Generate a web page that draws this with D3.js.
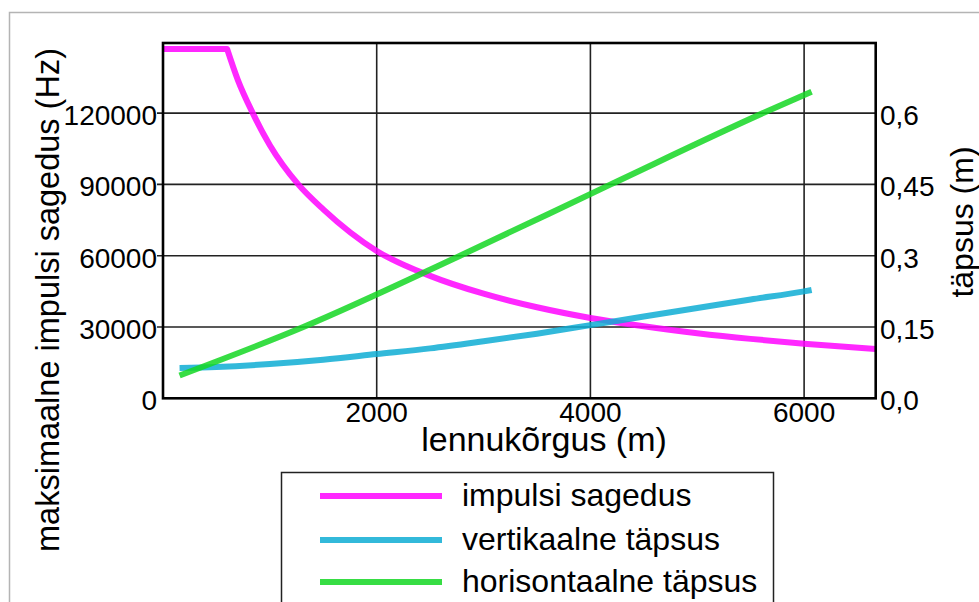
<!DOCTYPE html>
<html>
<head>
<meta charset="utf-8">
<script src="https://cdn.jsdelivr.net/npm/d3@7"></script>
<style>
  html, body { margin: 0; padding: 0; background: #fff; }
  svg { display: block; font-family: "Liberation Sans", Arial, sans-serif; }
</style>
</head>
<body>
<svg id="chart" width="979" height="602"></svg>
<script>
// Flight altitude (m) and maximum pulse repetition frequency (Hz)
const pulseAltitude = [0, 600, 700, 840, 1000, 1266, 1500, 2000, 2500, 3000, 3500, 4000, 4500, 5000, 5500, 6000, 6670];
const pulseFrequency = [147000, 147000, 134000, 120000, 106500, 90000, 79500, 62000, 51500, 44000, 38300, 33800, 30300, 27400, 25000, 23000, 20700];

// Vertical accuracy (m) by altitude
const verticalAltitude = [155, 500, 1000, 1500, 2000, 2500, 3000, 3500, 4000, 4500, 5000, 5500, 6000, 6070];
const verticalAccuracy = [0.064, 0.066, 0.072, 0.081, 0.093, 0.105, 0.120, 0.136, 0.154, 0.172, 0.190, 0.208, 0.225, 0.228];

// Horizontal accuracy (m) by altitude
const horizontalAltitude = [155, 1313, 2780, 4190, 5616, 6070];
const horizontalAccuracy = [0.048, 0.150, 0.300, 0.450, 0.600, 0.645];

// Axis ticks
const xTicks = [2000, 4000, 6000];
const leftTicks = [0, 30000, 60000, 90000, 120000];
const rightTicks = [0, 0.15, 0.3, 0.45, 0.6];
const rightTickLabels = ["0,0", "0,15", "0,3", "0,45", "0,6"];

const seriesNames = ["impulsi sagedus", "vertikaalne täpsus", "horisontaalne täpsus"];
const seriesColors = ["#ff02ff", "#0eadd4", "#14d723"];

const svg = d3.select("#chart");
const plot = { left: 163, right: 875.7, top: 43, bottom: 398.3 };

const x = d3.scaleLinear().domain([0, 6670]).range([plot.left, plot.right]);
const yLeft = d3.scaleLinear().domain([0, 149500]).range([plot.bottom, plot.top]);
const yRight = d3.scaleLinear().domain([0, 0.7475]).range([plot.bottom, plot.top]);

// Light outer frame
svg.append("rect")
  .attr("x", 9.5).attr("y", 12.5)
  .attr("width", 990).attr("height", 620)
  .attr("fill", "none").attr("stroke", "#b4b4b4").attr("stroke-width", 1.5);

// Grid
const grid = svg.append("g").attr("stroke", "#222").attr("stroke-width", 1.6);
grid.selectAll("line.v").data(xTicks).join("line")
  .attr("x1", d => x(d)).attr("x2", d => x(d))
  .attr("y1", plot.top).attr("y2", plot.bottom);
grid.selectAll("line.h").data(leftTicks.slice(1)).join("line")
  .attr("x1", plot.left - 6).attr("x2", plot.right)
  .attr("y1", d => yLeft(d)).attr("y2", d => yLeft(d));

// Data lines, clipped to the plot area
svg.append("clipPath").attr("id", "plotClip")
  .append("rect")
  .attr("x", plot.left).attr("y", plot.top)
  .attr("width", plot.right - plot.left).attr("height", plot.bottom - plot.top);

const lines = svg.append("g").attr("clip-path", "url(#plotClip)")
  .attr("fill", "none").attr("stroke-width", 6).attr("stroke-opacity", 0.85);

const straight = d3.line().x(d => x(d[0])).y(d => yLeft(d[1]));
const smoothLeft = d3.line().x(d => x(d[0])).y(d => yLeft(d[1])).curve(d3.curveMonotoneX);
const smoothRight = d3.line().x(d => x(d[0])).y(d => yRight(d[1])).curve(d3.curveMonotoneX);

// pulse frequency: flat limit, then decay with altitude
const pulsePts = d3.zip(pulseAltitude, pulseFrequency);
lines.append("path")
  .attr("d", straight(pulsePts.slice(0, 2)) + smoothLeft(pulsePts.slice(1)).replace(/^M/, "L"))
  .attr("stroke", seriesColors[0]).attr("stroke-linejoin", "round");

lines.append("path")
  .attr("d", smoothRight(d3.zip(verticalAltitude, verticalAccuracy)))
  .attr("stroke", seriesColors[1]);

lines.append("path")
  .attr("d", smoothRight(d3.zip(horizontalAltitude, horizontalAccuracy)))
  .attr("stroke", seriesColors[2]);

// Plot frame
svg.append("rect")
  .attr("x", plot.left).attr("y", plot.top)
  .attr("width", plot.right - plot.left).attr("height", plot.bottom - plot.top)
  .attr("fill", "none").attr("stroke", "#000").attr("stroke-width", 2.6);

// Tick labels
const tickFont = 28;
svg.append("g").selectAll("text").data(xTicks).join("text")
  .attr("x", d => x(d)).attr("y", 422)
  .attr("text-anchor", "middle").attr("font-size", tickFont).attr("fill", "#000")
  .text(d => d);

svg.append("g").selectAll("text").data(leftTicks).join("text")
  .attr("x", 157).attr("y", d => yLeft(d) + 12)
  .attr("text-anchor", "end").attr("font-size", tickFont).attr("fill", "#000")
  .text(d => d);

svg.append("g").selectAll("text").data(rightTicks).join("text")
  .attr("x", 880).attr("y", d => yRight(d) + 12)
  .attr("text-anchor", "start").attr("font-size", tickFont).attr("fill", "#000")
  .text((d, i) => rightTickLabels[i]);

// Axis titles
svg.append("text")
  .attr("transform", "translate(59,300) rotate(-90)")
  .attr("text-anchor", "middle").attr("font-size", 32.5).attr("fill", "#000")
  .text("maksimaalne impulsi sagedus (Hz)");

svg.append("text")
  .attr("transform", "translate(973,222) rotate(-90)")
  .attr("text-anchor", "middle").attr("font-size", 32).attr("fill", "#000")
  .text("täpsus (m)");

svg.append("text")
  .attr("x", 544).attr("y", 451)
  .attr("text-anchor", "middle").attr("font-size", 34).attr("fill", "#000")
  .text("lennukõrgus (m)");

// Legend
const legend = svg.append("g");
legend.append("rect")
  .attr("x", 281.5).attr("y", 472.5)
  .attr("width", 492).attr("height", 160)
  .attr("fill", "#fff").attr("stroke", "#222").attr("stroke-width", 1.5);
const legendY = [496, 540, 582];
seriesNames.forEach((name, i) => {
  legend.append("line")
    .attr("x1", 320).attr("x2", 442)
    .attr("y1", legendY[i]).attr("y2", legendY[i])
    .attr("stroke", seriesColors[i]).attr("stroke-width", 6).attr("stroke-opacity", 0.85);
  legend.append("text")
    .attr("x", 462).attr("y", legendY[i] + 10)
    .attr("font-size", 32).attr("fill", "#000")
    .text(name);
});
</script>
</body>
</html>
